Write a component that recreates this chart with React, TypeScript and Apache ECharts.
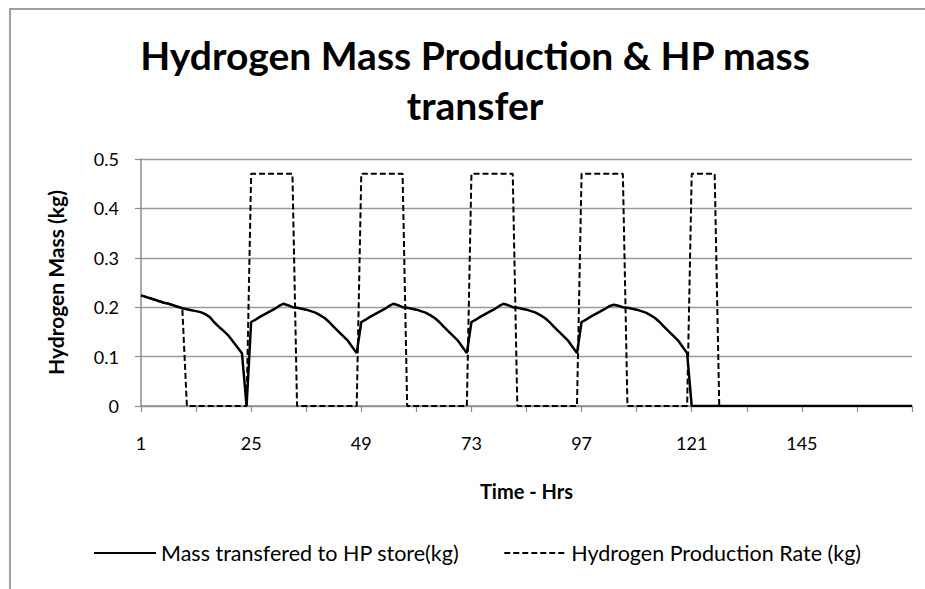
import React, { useEffect, useRef } from "react";
import * as echarts from "echarts";

// Hours 1..169 on the category axis
const hours: string[] = Array.from({ length: 169 }, (_, i) => String(i + 1));

// Mass transferred to HP store (kg), per 24-h block
const massDay1 = [0.224, 0.221, 0.218, 0.215, 0.212, 0.209, 0.207, 0.204, 0.201, 0.198, 0.196, 0.194, 0.192, 0.190, 0.186, 0.180, 0.169, 0.160, 0.152, 0.143, 0.131, 0.119, 0.107, 0];
const massDay2 = [0.170, 0.175, 0.181, 0.186, 0.191, 0.196, 0.202, 0.207, 0.204, 0.200, 0.199, 0.197, 0.195, 0.192, 0.189, 0.184, 0.178, 0.170, 0.160, 0.151, 0.142, 0.133, 0.120, 0.107];
const massDay3 = [0.170, 0.175, 0.181, 0.186, 0.191, 0.196, 0.202, 0.207, 0.204, 0.200, 0.199, 0.197, 0.195, 0.192, 0.189, 0.184, 0.178, 0.170, 0.160, 0.151, 0.142, 0.133, 0.120, 0.107];
const massDay4 = [0.170, 0.175, 0.181, 0.186, 0.191, 0.196, 0.202, 0.207, 0.204, 0.200, 0.199, 0.197, 0.195, 0.192, 0.189, 0.184, 0.178, 0.170, 0.160, 0.151, 0.142, 0.133, 0.120, 0.107];
const massDay5 = [0.170, 0.175, 0.181, 0.186, 0.191, 0.196, 0.202, 0.205, 0.203, 0.200, 0.199, 0.197, 0.195, 0.192, 0.189, 0.184, 0.178, 0.170, 0.160, 0.151, 0.142, 0.133, 0.120, 0.107];
const massDay6 = [0, 0, 0, 0, 0, 0, 0, 0, 0, 0, 0, 0, 0, 0, 0, 0, 0, 0, 0, 0, 0, 0, 0, 0];
const massDay7 = [0, 0, 0, 0, 0, 0, 0, 0, 0, 0, 0, 0, 0, 0, 0, 0, 0, 0, 0, 0, 0, 0, 0, 0, 0];

// Hydrogen production rate (kg), per 24-h block
const prodDay1 = [0.224, 0.221, 0.218, 0.215, 0.212, 0.209, 0.207, 0.204, 0.201, 0.198, 0, 0, 0, 0, 0, 0, 0, 0, 0, 0, 0, 0, 0, 0];
const prodDay2 = [0.47, 0.47, 0.47, 0.47, 0.47, 0.47, 0.47, 0.47, 0.47, 0.47, 0, 0, 0, 0, 0, 0, 0, 0, 0, 0, 0, 0, 0, 0];
const prodDay3 = [0.47, 0.47, 0.47, 0.47, 0.47, 0.47, 0.47, 0.47, 0.47, 0.47, 0, 0, 0, 0, 0, 0, 0, 0, 0, 0, 0, 0, 0, 0];
const prodDay4 = [0.47, 0.47, 0.47, 0.47, 0.47, 0.47, 0.47, 0.47, 0.47, 0.47, 0, 0, 0, 0, 0, 0, 0, 0, 0, 0, 0, 0, 0, 0];
const prodDay5 = [0.47, 0.47, 0.47, 0.47, 0.47, 0.47, 0.47, 0.47, 0.47, 0.47, 0, 0, 0, 0, 0, 0, 0, 0, 0, 0, 0, 0, 0, 0];
const prodDay6 = [0.47, 0.47, 0.47, 0.47, 0.47, 0.47, 0, 0, 0, 0, 0, 0, 0, 0, 0, 0, 0, 0, 0, 0, 0, 0, 0, 0];
const prodDay7 = [0, 0, 0, 0, 0, 0, 0, 0, 0, 0, 0, 0, 0, 0, 0, 0, 0, 0, 0, 0, 0, 0, 0, 0, 0];

const massSeries = [...massDay1, ...massDay2, ...massDay3, ...massDay4, ...massDay5, ...massDay6, ...massDay7];
const prodSeries = [...prodDay1, ...prodDay2, ...prodDay3, ...prodDay4, ...prodDay5, ...prodDay6, ...prodDay7];

const seriesNames = ["Mass transfered to HP store(kg)", "Hydrogen Production Rate (kg)"];

const FONT = "Lato";
const AXIS_GRAY = "#8c8c8c";

export default function App() {
  const ref = useRef<HTMLDivElement>(null);
  useEffect(() => {
    document.body.style.margin = "0";
    if (!ref.current) return;
    const chart = echarts.init(ref.current, null, { renderer: "svg" });
    chart.setOption({
      animation: false,
      backgroundColor: "#ffffff",
      title: {
        text: "Hydrogen Mass Production & HP mass\ntransfer",
        left: 475,
        top: 30,
        padding: 0,
        textAlign: "center",
        textStyle: {
          fontFamily: FONT,
          fontWeight: "bold",
          fontSize: 39,
          lineHeight: 50,
          color: "#000",
        },
      },
      graphic: [
        {
          type: "rect",
          silent: true,
          z: -10,
          shape: { x: 10, y: 9, width: 960, height: 640 },
          style: { fill: "none", stroke: "#a0a0a0", lineWidth: 2 },
        },
      ],
      legend: {
        left: 93,
        top: 542,
        padding: 0,
        itemWidth: 62,
        itemHeight: 14,
        itemGap: 44,
        data: seriesNames,
        itemStyle: { opacity: 0 },
        textStyle: { fontFamily: FONT, fontSize: 21.5, color: "#000" },
      },
      grid: { left: 141, right: 13, top: 159, bottom: 183 },
      xAxis: {
        type: "category",
        data: hours,
        boundaryGap: false,
        name: "Time - Hrs",
        nameLocation: "middle",
        nameGap: 75,
        nameTextStyle: { fontFamily: FONT, fontWeight: "bold", fontSize: 20, color: "#000" },
        axisLine: { lineStyle: { color: AXIS_GRAY, width: 1.5 } },
        axisTick: {
          interval: (i: number) => i % 12 === 0,
          length: 6,
          lineStyle: { color: AXIS_GRAY, width: 1.2 },
        },
        axisLabel: {
          interval: (i: number) => i % 24 === 0 && i < 168,
          margin: 28,
          fontFamily: FONT,
          fontSize: 18,
          color: "#000",
        },
        splitLine: { show: false },
      },
      yAxis: {
        type: "value",
        min: 0,
        max: 0.5,
        interval: 0.1,
        name: "Hydrogen Mass (kg)",
        nameLocation: "middle",
        nameRotate: 90,
        nameGap: 75,
        nameTextStyle: { fontFamily: FONT, fontWeight: "bold", fontSize: 21, color: "#000" },
        axisLine: { show: true, lineStyle: { color: AXIS_GRAY, width: 1.5 } },
        axisTick: { show: true, length: 6, lineStyle: { color: AXIS_GRAY, width: 1.2 } },
        axisLabel: { margin: 22, fontFamily: FONT, fontSize: 18, color: "#000" },
        splitLine: { lineStyle: { color: "#9a9a9a", width: 1.3 } },
      },
      series: [
        {
          name: seriesNames[0],
          type: "line",
          data: massSeries,
          symbol: "none",
          lineStyle: { color: "#000", width: 2.5 },
          itemStyle: { color: "#000" },
          z: 3,
        },
        {
          name: seriesNames[1],
          type: "line",
          data: prodSeries,
          symbol: "none",
          lineStyle: { color: "#000", width: 2, type: [6, 3] },
          itemStyle: { color: "#000" },
          z: 4,
        },
      ],
    });
    return () => chart.dispose();
  }, []);
  return <div ref={ref} style={{ width: 925, height: 589 }} />;
}
